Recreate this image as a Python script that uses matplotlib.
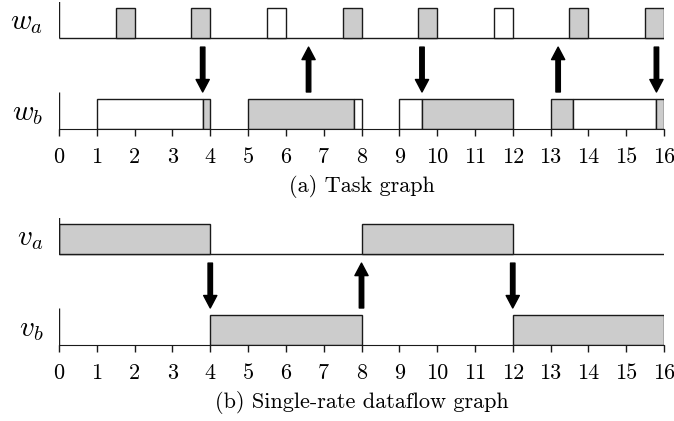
import numpy as np
import matplotlib
matplotlib.use('Agg')
import matplotlib.pyplot as plt

plt.rcParams['font.family'] = 'cmr10'
plt.rcParams['mathtext.fontset'] = 'cm'
plt.rcParams['axes.formatter.use_mathtext'] = True

# (a) task graph schedule
wa_start = [1.5, 3.5, 5.5, 7.5, 9.5, 11.5, 13.5, 15.5]
wa_end = [2, 4, 6, 8, 10, 12, 14, 16]
wa_fill = [1, 1, 0, 1, 1, 0, 1, 1]
wb_start = [1, 3.8, 5, 7.8, 9, 9.6, 13, 13.6, 15.8]
wb_end = [3.8, 4, 7.8, 8, 9.6, 12, 13.6, 15.8, 16]
wb_fill = [0, 1, 1, 0, 0, 1, 1, 0, 1]
arrows_a_x = [3.8, 6.6, 9.6, 13.2, 15.8]
arrows_a_dir = ['down', 'up', 'down', 'up', 'down']

# (b) single-rate dataflow graph schedule
va_start = [0, 8]
va_end = [4, 12]
va_fill = [1, 1]
vb_start = [4, 12]
vb_end = [8, 16]
vb_fill = [1, 1]
arrows_b_x = [4, 8, 12]
arrows_b_dir = ['down', 'up', 'down']

ticks = list(range(17))
GRAY = '#cccccc'
EDGE = '#1a1a1a'
TOP = 3.0      # baseline of upper row
STUB = 1.23    # height of the little vertical axis line


def draw_row(ax, base, start, end, fill):
    start = np.array(start)
    end = np.array(end)
    colors = [GRAY if f else 'white' for f in fill]
    ax.barh(base, end - start, left=start, height=1, align='edge',
            color=colors, edgecolor=EDGE, linewidth=1.0, zorder=3)
    ax.vlines(0, base, base + STUB, color=EDGE, lw=1.0, zorder=4)


def draw_arrows(ax, xs, dirs):
    for x, d in zip(xs, dirs):
        hi, lo = TOP - 0.3, 1.22
        tip, tail = (lo, hi) if d == 'down' else (hi, lo)
        ax.annotate('', xy=(x, tip), xytext=(x, tail),
                    arrowprops=dict(facecolor='black', edgecolor='black',
                                    width=3.2, headwidth=9.5, headlength=9,
                                    shrink=0))


def panel(ax, rows, labels, arrows, caption):
    (s1, e1, f1), (s2, e2, f2) = rows
    ax.hlines(TOP, 0, 16, color=EDGE, lw=1.0, zorder=2)
    draw_row(ax, TOP, s1, e1, f1)
    draw_row(ax, 0, s2, e2, f2)
    draw_arrows(ax, *arrows)
    ax.set_xlim(0, 16)
    ax.set_ylim(0, 4.2)
    for sp in ['top', 'right', 'left']:
        ax.spines[sp].set_visible(False)
    ax.spines['bottom'].set_color(EDGE)
    ax.spines['bottom'].set_zorder(5)
    ax.set_yticks([])
    ax.set_xticks(ticks)
    ax.set_xticklabels([str(t) for t in ticks])
    ax.tick_params(axis='x', length=5, width=1.0, color=EDGE,
                   labelsize=16, pad=8)
    ax.text(-0.42, TOP + 0.5, labels[0], ha='right', va='center', fontsize=21)
    ax.text(-0.42, 0.5, labels[1], ha='right', va='center', fontsize=21)
    ax.text(8, -1.88, caption, ha='center', va='center', fontsize=16)


fig = plt.figure(figsize=(6.74, 4.21), dpi=100)
ax1 = fig.add_axes([59 / 674, 1 - 129 / 421, 605 / 674, 127.4 / 421])
ax2 = fig.add_axes([59 / 674, 1 - 345 / 421, 605 / 674, 127.4 / 421])

panel(ax1, [(wa_start, wa_end, wa_fill), (wb_start, wb_end, wb_fill)],
      [r'$w_a$', r'$w_b$'], (arrows_a_x, arrows_a_dir), '(a) Task graph')
panel(ax2, [(va_start, va_end, va_fill), (vb_start, vb_end, vb_fill)],
      [r'$v_a$', r'$v_b$'], (arrows_b_x, arrows_b_dir),
      '(b) Single-rate dataflow graph')

fig.savefig('out.png', dpi=100)
